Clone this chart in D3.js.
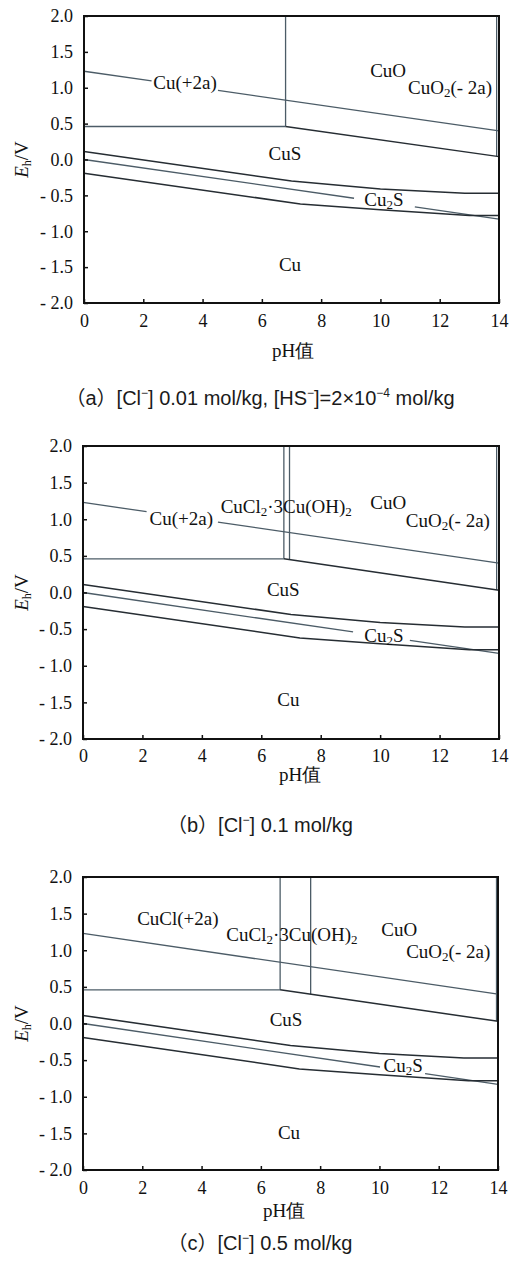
<!DOCTYPE html>
<html>
<head>
<meta charset="utf-8">
<script src="https://cdn.jsdelivr.net/npm/d3@7"></script>
<style>
  body { margin: 0; background: #fff; }
  svg { display: block; }
</style>
</head>
<body>
<svg id="chart" width="513" height="1265"></svg>
<script>
// axis ticks
const pHTicks = [0, 2, 4, 6, 8, 10, 12, 14];
const ehTicks = [-2, -1.5, -1, -0.5, 0, 0.5, 1, 1.5, 2];
const ehTickLabels = ["- 2.0", "- 1.5", "- 1.0", "- 0.5", "0.0", "0.5", "1.0", "1.5", "2.0"];

// water stability lines, same on every diagram (pH, Eh)
const o2Line = [[0, 1.23], [14, 0.40]];
const h2Line = [[0, 0.0], [14, -0.83]];

// sulfide boundaries, same on every diagram
const cusCu2sLine = [[0, 0.11], [7, -0.30], [10, -0.41], [12.85, -0.47], [14, -0.47]];
const cu2sCuLine = [[0, -0.19], [7.3, -0.62], [10, -0.70], [13, -0.78], [14, -0.78]];

// (a) [Cl-] 0.01 mol/kg
const shelfA = [[0, 0.46], [6.8, 0.46], [14, 0.04]];
const verticalsA = [[6.8, 0.46], [13.92, 0.045]];   // pH, lower end (top is 2.0)
const o2GapA = [2.28, 4.52];
const h2GapA = [9.11, 11.16];
const labelsA = [
  ["Cu(+2a)", 3.41, 1.065],
  ["CuO", 10.26, 1.24],
  ["CuO_2(- 2a)", 12.35, 1.0],
  ["CuS", 6.78, 0.08],
  ["Cu_2S", 10.12, -0.57],
  ["Cu", 6.95, -1.47]
];

// (b) [Cl-] 0.1 mol/kg
const shelfB = [[0, 0.46], [6.76, 0.46], [14, 0.03]];
const verticalsB = [[6.76, 0.46], [6.95, 0.45], [13.92, 0.035]];
const o2GapB = [2.14, 4.54];
const h2GapB = [9.09, 11.0];
const labelsB = [
  ["Cu(+2a)", 3.31, 1.01],
  ["CuCl_2·3Cu(OH)_2", 6.84, 1.17],
  ["CuO", 10.27, 1.22],
  ["CuO_2(- 2a)", 12.28, 0.97],
  ["CuS", 6.74, 0.03],
  ["Cu_2S", 10.13, -0.59],
  ["Cu", 6.91, -1.47]
];

// (c) [Cl-] 0.5 mol/kg
const shelfC = [[0, 0.46], [6.65, 0.46], [14, 0.03]];
const verticalsC = [[6.65, 0.46], [7.68, 0.40], [13.95, 0.035]];
const o2GapC = null;
const h2GapC = [10.02, 11.54];
const labelsC = [
  ["CuCl(+2a)", 3.2, 1.43],
  ["CuCl_2·3Cu(OH)_2", 7.05, 1.21],
  ["CuO", 10.67, 1.28],
  ["CuO_2(- 2a)", 12.32, 0.98],
  ["CuS", 6.85, 0.05],
  ["Cu_2S", 10.8, -0.58],
  ["Cu", 6.95, -1.49]
];

// captions: [text, superscript?]
const captionA = [["（a）[Cl", false], ["−", true], ["] 0.01 mol/kg, [HS", false], ["−", true], ["]=2×10", false], ["−4", true], [" mol/kg", false]];
const captionB = [["（b）[Cl", false], ["−", true], ["] 0.1 mol/kg", false]];
const captionC = [["（c）[Cl", false], ["−", true], ["] 0.5 mol/kg", false]];

const panels = [
  {box: [84, 499, 16, 303], shelf: shelfA, verticals: verticalsA, o2Gap: o2GapA, h2Gap: h2GapA,
   labels: labelsA, caption: captionA, titleX: 293, titleY: 350, tickPad: 11, captionY: 398},
  {box: [83, 499, 446, 739], shelf: shelfB, verticals: verticalsB, o2Gap: o2GapB, h2Gap: h2GapB,
   labels: labelsB, caption: captionB, titleX: 300, titleY: 774, tickPad: 10, captionY: 825},
  {box: [83, 498, 877, 1170], shelf: shelfC, verticals: verticalsC, o2Gap: o2GapC, h2Gap: h2GapC,
   labels: labelsC, caption: captionC, titleX: 284, titleY: 1210, tickPad: 11, captionY: 1243}
];

const serif = "'Liberation Serif', 'Times New Roman', serif";
const sans = "'Liberation Sans', Arial, 'Noto Sans CJK SC', sans-serif";
const lightLine = "#4c5c67";   // water lines, verticals, flat shelf
const darkLine = "#262d33";    // sulfide boundaries
const textColor = "#111";

let svg = d3.select("#chart");

// split a straight line into the pieces left and right of a label gap
function splitLine(pts, gap) {
  if (!gap) return [pts];
  let lerp = ph => {
    for (let i = 1; i < pts.length; i++) {
      if (ph <= pts[i][0]) {
        let t = (ph - pts[i-1][0]) / (pts[i][0] - pts[i-1][0]);
        return pts[i-1][1] + t * (pts[i][1] - pts[i-1][1]);
      }
    }
    return pts[pts.length-1][1];
  };
  let left = pts.filter(p => p[0] < gap[0]).concat([[gap[0], lerp(gap[0])]]);
  let right = [[gap[1], lerp(gap[1])]].concat(pts.filter(p => p[0] > gap[1]));
  return [left, right];
}

// label text with "_2" style subscripts
function addLabel(g, str, x, y) {
  let t = g.append("text")
    .attr("x", x).attr("y", y)
    .attr("text-anchor", "middle")
    .style("font-family", serif)
    .style("font-size", "19px")
    .attr("fill", textColor);
  let parts = str.split(/_(\d)/);
  let shift = 0;
  parts.forEach((p, i) => {
    if (p === "") return;
    if (i % 2 === 1) {
      t.append("tspan").style("font-size", "13px").attr("dy", 3).text(p);
      shift = -3;
    } else {
      t.append("tspan").attr("dy", shift).text(p);
      shift = 0;
    }
  });
}

function drawPanel(p) {
  let [x0, x1, y0, y1] = p.box;
  let g = svg.append("g");

  let xScale = d3.scaleLinear().domain([0, 14]).range([x0, x1]);
  let yScale = d3.scaleLinear().domain([-2, 2]).range([y1, y0]);
  let line = d3.line().x(d => xScale(d[0])).y(d => yScale(d[1]));

  let light = [];
  splitLine(o2Line, p.o2Gap).forEach(s => light.push(s));
  splitLine(h2Line, p.h2Gap).forEach(s => light.push(s));
  light.push(p.shelf.slice(0, 2));
  p.verticals.forEach(v => light.push([[v[0], 2], [v[0], v[1]]]));
  let dark = [cusCu2sLine, cu2sCuLine, p.shelf.slice(1)];

  g.selectAll(".light")
    .data(light)
    .join("path")
    .attr("class", "light")
    .attr("d", line)
    .attr("fill", "none")
    .attr("stroke", lightLine)
    .attr("stroke-width", 1.3);

  g.selectAll(".dark")
    .data(dark)
    .join("path")
    .attr("class", "dark")
    .attr("d", line)
    .attr("fill", "none")
    .attr("stroke", darkLine)
    .attr("stroke-width", 1.5);

  // frame
  g.append("rect")
    .attr("x", x0).attr("y", y0)
    .attr("width", x1 - x0).attr("height", y1 - y0)
    .attr("fill", "none")
    .attr("stroke", "#111")
    .attr("stroke-width", 2);

  // axes, ticks pointing inward
  let xAxis = d3.axisBottom(xScale).tickValues(pHTicks).tickSizeInner(-4).tickSizeOuter(0).tickPadding(p.tickPad);
  let gx = g.append("g").attr("transform", `translate(0,${y1})`).call(xAxis);
  let yAxis = d3.axisLeft(yScale).tickValues(ehTicks).tickSizeInner(-4).tickSizeOuter(0).tickPadding(11)
    .tickFormat((d, i) => ehTickLabels[i]);
  let gy = g.append("g").attr("transform", `translate(${x0},0)`).call(yAxis);
  for (let a of [gx, gy]) {
    a.select(".domain").remove();
    a.selectAll("line").attr("stroke", "#111").attr("stroke-width", 1.5);
    a.selectAll("text")
      .style("font-family", serif)
      .style("font-size", "18px")
      .attr("fill", textColor);
  }

  // region labels
  p.labels.forEach(l => addLabel(g, l[0], xScale(l[1]), yScale(l[2]) + 6));

  // axis titles
  g.append("text")
    .attr("x", p.titleX).attr("y", p.titleY + 7)
    .attr("text-anchor", "middle")
    .style("font-family", serif)
    .style("font-size", "19px")
    .attr("fill", textColor)
    .text("pH值");

  let ey = (y0 + y1) / 2;
  let et = g.append("text")
    .attr("transform", `translate(28,${ey}) rotate(-90)`)
    .attr("text-anchor", "middle")
    .style("font-family", serif)
    .style("font-size", "19px")
    .attr("fill", textColor);
  et.append("tspan").style("font-style", "italic").text("E");
  et.append("tspan").style("font-size", "12px").attr("dy", 3).text("h");
  et.append("tspan").attr("dy", -3).text("/V");

  // caption
  let ct = g.append("text")
    .attr("x", 260).attr("y", p.captionY + 7)
    .attr("text-anchor", "middle")
    .style("font-family", sans)
    .style("font-size", "20px")
    .attr("fill", "#1a1a1a");
  let shift = 0;
  p.caption.forEach(c => {
    if (c[1]) {
      ct.append("tspan").style("font-size", "12px").attr("dy", shift - 8).text(c[0]);
      shift = 8;
    } else {
      ct.append("tspan").attr("dy", shift).text(c[0]);
      shift = 0;
    }
  });
}

panels.forEach(drawPanel);
</script>
</body>
</html>
